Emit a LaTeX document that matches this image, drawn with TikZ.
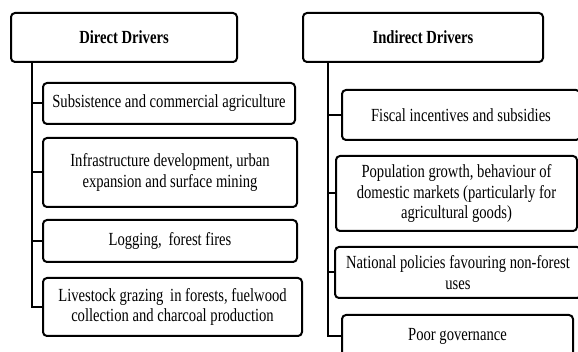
\documentclass[tikz,border=0pt]{standalone}
\usepackage{fontspec}
\setmainfont{Liberation Serif}[FakeStretch=0.79]
\usetikzlibrary{calc}
\tikzset{
  box/.style={draw=black, line width=2pt, rounded corners=4pt, align=center, inner sep=2pt, font=\fontsize{18.5}{20.5}\selectfont, anchor=center},
  head/.style={box, font=\fontsize{18.5}{20.5}\selectfont\bfseries},
  link/.style={draw=black, line width=2pt}
}
\begin{document}
\begin{tikzpicture}[x=1pt,y=-1pt]
\useasboundingbox (0,0) rectangle (578,352);
\clip (0,0) rectangle (578,352);
% left column
\node[head, minimum width=226pt, minimum height=49pt] (hl) at (124,37.5) {Direct Drivers};
\node[box, minimum width=252pt, minimum height=41pt] (l1) at (169,103.5) {Subsistence and commercial agriculture};
\node[box, minimum width=254pt, minimum height=69pt] (l2) at (170,172.5) {Infrastructure development, urban\\expansion and surface mining};
\node[box, minimum width=254pt, minimum height=42pt] (l3) at (170,241) {Logging,\, forest fires};
\node[box, minimum width=259pt, minimum height=58pt] (l4) at (172.5,307) {Livestock grazing\, in forests, fuelwood\\collection and charcoal production};
% right column
\node[head, minimum width=240pt, minimum height=49pt] (hr) at (423,37.5) {Indirect Drivers};
\node[box, minimum width=238pt, minimum height=50pt] (r1) at (461,115) {Fiscal incentives and subsidies};
\node[box, minimum width=241pt, minimum height=75pt] (r2) at (456.5,193.5) {Population growth, behaviour of\\domestic markets (particularly for\\agricultural goods)};
\node[box, minimum width=246pt, minimum height=51pt] (r3) at (458,272.5) {National policies favouring non-forest\\uses};
\node[box, minimum width=231pt, minimum height=42pt] (r4) at (457.5,336) {Poor governance};
% connectors
\coordinate (tl) at ($(hl.south west)+(22,0)$);
\coordinate (tr) at ($(hr.south west)+(26,0)$);
\draw[link] (tl) |- (l1.west);
\draw[link] (tl) |- (l2.west);
\draw[link] (tl) |- (l3.west);
\draw[link] (tl) |- (l4.west);
\draw[link] (tr) |- (r1.west);
\draw[link] (tr) |- (r2.west);
\draw[link] (tr) |- (r3.west);
\draw[link] (tr) |- (r4.west);
\end{tikzpicture}
\end{document}
